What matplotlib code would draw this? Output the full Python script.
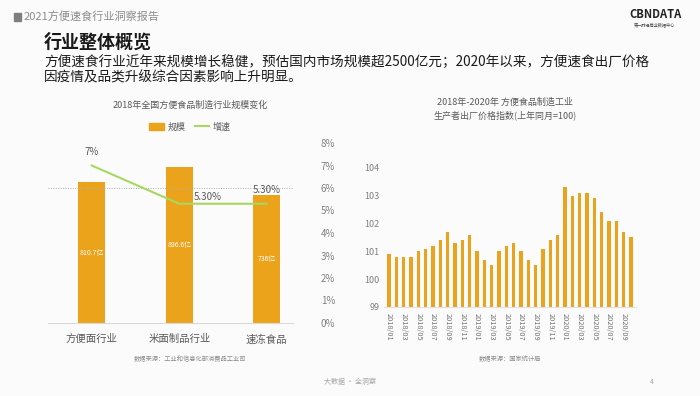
import numpy as np
import matplotlib.pyplot as plt
from matplotlib.patches import Patch
from matplotlib.lines import Line2D

plt.rcParams['font.family'] = ['Noto Sans CJK SC', 'DejaVu Sans']

W, H = 700, 396

#################################################
# Data
#################################################
# left chart: 2018 industry scale and growth
cats = ['方便面行业', '米面制品行业', '速冻食品']
scale = [810.7, 896.6, 736]
scale_lbl = ['810.7亿', '896.6亿', '736亿']
growth = [7.0, 5.3, 5.3]
growth_lbl = ['7%', '5.30%', '5.30%']

# right chart: producer price index (same month last year = 100)
months = ['2018/01', '2018/02', '2018/03', '2018/04', '2018/05', '2018/06',
          '2018/07', '2018/08', '2018/09', '2018/10', '2018/11', '2018/12',
          '2019/01', '2019/02', '2019/03', '2019/04', '2019/05', '2019/06',
          '2019/07', '2019/08', '2019/09', '2019/10', '2019/11', '2019/12',
          '2020/01', '2020/02', '2020/03', '2020/04', '2020/05', '2020/06',
          '2020/07', '2020/08', '2020/09', '2020/10']
ppi = [100.9, 100.8, 100.8, 100.8, 101.0, 101.1, 101.2, 101.4, 101.7, 101.3, 101.4, 101.6,
       101.0, 100.7, 100.5, 101.0, 101.2, 101.3, 101.0, 100.7, 100.5, 101.1, 101.4, 101.6,
       103.3, 103.0, 103.1, 103.1, 102.9, 102.4, 102.1, 102.1, 101.7, 101.5]

bar_c = '#EBA31C'
line_c = '#A8D860'
grey = '#808080'

def px(x, y):
    # pixel position -> figure fraction
    return x / W, 1 - y / H

fig = plt.figure(figsize=(7, 3.96), dpi=100)
fig.patch.set_facecolor('#fbfbfb')

#################################################
# Header
#################################################
fig.patches.append(plt.Rectangle(px(14, 21), 7 / W, 8 / H, transform=fig.transFigure,
                                 color='#7f7f7f'))
fig.text(*px(24, 17), '2021方便速食行业洞察报告', fontsize=8, color='#8c8c8c', va='center')
fig.text(*px(44, 42), '行业整体概览', fontsize=13, fontweight='bold', color='#1a1a1a', va='center')
fig.text(*px(44, 62), '方便速食行业近年来规模增长稳健，预估国内市场规模超2500亿元；2020年以来，方便速食出厂价格',
         fontsize=9.8, color='#1a1a1a', va='center')
fig.text(*px(44, 78), '因疫情及品类升级综合因素影响上升明显。', fontsize=9.8, color='#1a1a1a', va='center')
fig.text(*px(655, 15), 'CBNDATA', fontsize=8, fontweight='bold', color='#222222', ha='center', va='center')
fig.text(*px(655, 25), '第一财经商业数据中心', fontsize=3, color='#444444', ha='center', va='center')

#################################################
# Left chart
#################################################
ax = fig.add_axes([48 / W, 73 / H, 245 / W, 180 / H])
x = np.arange(len(cats))
ax.bar(x, scale, width=0.31, color=bar_c, zorder=2)
ax.set_ylim(0, 1035)
ax.set_xlim(-0.5, 2.3)
for xi, v, s in zip(x, scale, scale_lbl):
    ax.text(xi, v * 0.5, s, color='white', fontsize=5, ha='center', va='center', zorder=3)
ax.set_yticks([])
ax.set_xticks(x)
ax.set_xticklabels(cats, fontsize=7.5, color='#595959')
ax.tick_params(axis='x', length=0, pad=8)
for s in ['top', 'left', 'right']:
    ax.spines[s].set_visible(False)
ax.spines['bottom'].set_color('#d9d9d9')
ax.patch.set_alpha(0)

ax2 = ax.twinx()
ax2.plot(x, growth, color=line_c, lw=1.5, zorder=4)
ax2.axhline(6, color='#b0b0b0', lw=0.7, ls=(0, (1, 1.5)), zorder=1)
ax2.set_ylim(0, 8)
ax2.set_yticks(range(0, 9))
ax2.set_yticklabels(['%d%%' % i for i in range(0, 9)], fontsize=7, color=grey)
ax2.tick_params(axis='y', length=0, pad=20)
for s in ['top', 'left', 'right', 'bottom']:
    ax2.spines[s].set_visible(False)
ax2.text(x[0], growth[0] + 0.6, growth_lbl[0], fontsize=7, color='#595959', ha='center', va='center')
ax2.text(x[1] + 0.32, growth[1] + 0.3, growth_lbl[1], fontsize=7, color='#595959', ha='center', va='center')
ax2.text(x[2], growth[2] + 0.6, growth_lbl[2], fontsize=7, color='#595959', ha='center', va='center')

fig.text(*px(190, 105), '2018年全国方便食品制造行业规模变化', fontsize=6.5, color='#595959',
         ha='center', va='center')
handles = [Patch(color=bar_c), Line2D([0], [0], color=line_c, lw=1.5)]
fig.legend(handles, ['规模', '增速'], loc='center', bbox_to_anchor=px(190, 127), ncol=2,
           frameon=False, fontsize=6.5, handlelength=1.6, handleheight=0.8,
           columnspacing=1.0, handletextpad=0.4, labelcolor='#595959')
fig.text(*px(190, 359), '数据来源：工业和信息化部消费品工业司', fontsize=4.5, color='#8c8c8c',
         ha='center', va='center')

#################################################
# Right chart
#################################################
bx = fig.add_axes([384 / W, 89 / H, 252 / W, 156 / H])
xi = np.arange(len(months))
bx.bar(xi, np.array(ppi) - 99, bottom=99, width=0.45, color=bar_c)
bx.set_ylim(99, 104.6)
bx.set_xlim(-0.7, 33.7)
bx.set_yticks([99, 100, 101, 102, 103, 104])
bx.tick_params(axis='y', length=0, pad=3, labelsize=6.5, labelcolor=grey)
bx.set_xticks(xi[::2])
bx.set_xticklabels(months[::2], rotation=270, fontsize=5.3, color='#737373')
bx.tick_params(axis='x', length=0, pad=4)
for s in ['top', 'left', 'right']:
    bx.spines[s].set_visible(False)
bx.spines['bottom'].set_color('#e0e0e0')
bx.patch.set_alpha(0)

fig.text(*px(505, 102), '2018年-2020年 方便食品制造工业', fontsize=6.5, color='#595959',
         ha='center', va='center')
fig.text(*px(505, 115), '生产者出厂价格指数(上年同月=100)', fontsize=6.5, color='#595959',
         ha='center', va='center')
fig.text(*px(510, 359), '数据来源：国家统计局', fontsize=4.5, color='#8c8c8c', ha='center', va='center')

#################################################
# Footer
#################################################
fig.text(*px(350, 382), '大数据 · 全洞察', fontsize=5, color='#a6a6a6', ha='center', va='center')
fig.text(*px(652, 382), '4', fontsize=5, color='#a6a6a6', ha='center', va='center')

fig.savefig('out.png', dpi=100, facecolor=fig.get_facecolor())
